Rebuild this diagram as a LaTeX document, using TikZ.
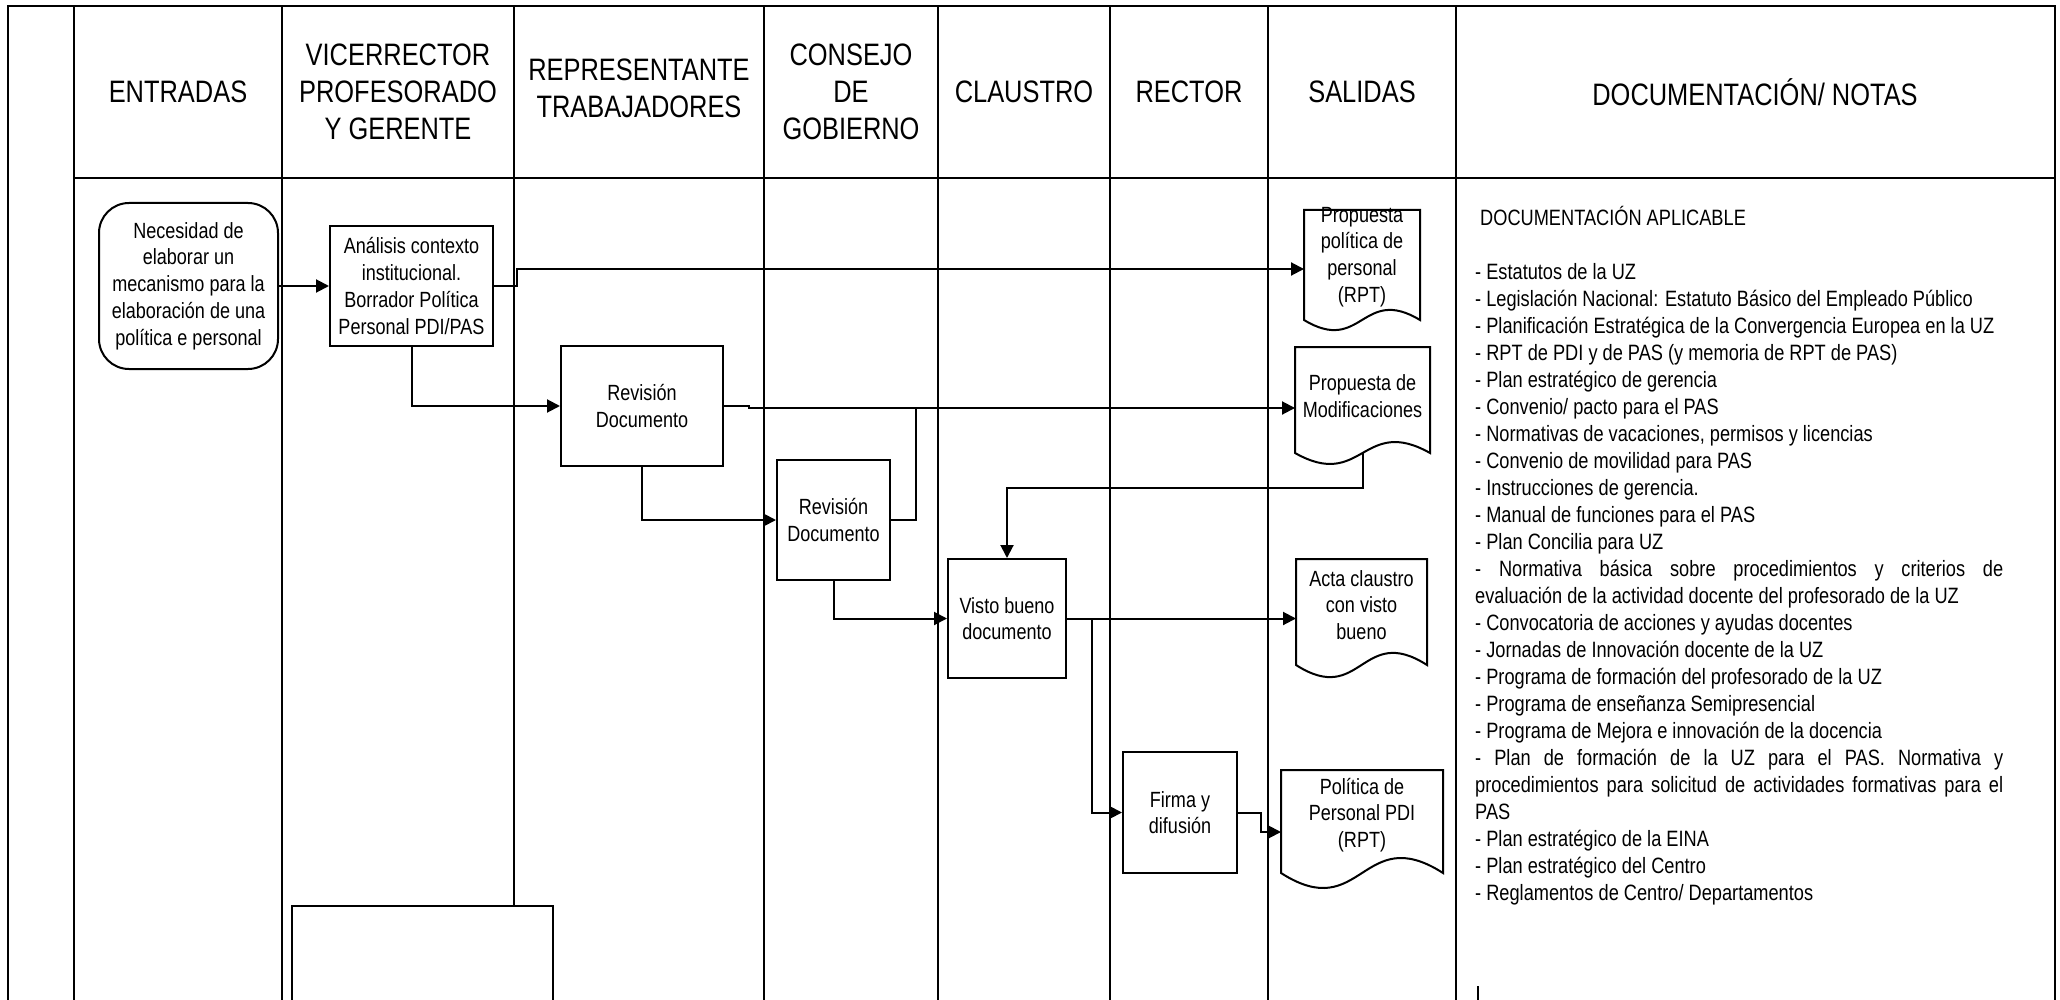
\documentclass[tikz,border=0pt]{standalone}
\usepackage{fontspec}
\setmainfont{Liberation Sans}[FakeStretch=0.82]
\usetikzlibrary{arrows.meta,calc,positioning}

\tikzset{
  lane/.style={line width=2.4pt},
  head/.style={font=\fontsize{31}{37}\selectfont, align=center},
  stepbox/.style={draw, line width=2pt, align=center, inner sep=0pt, font=\fontsize{22}{26.7}\selectfont},
  startbox/.style={stepbox, rounded corners=30pt},
  docnode/.style={inner sep=0pt, align=center, font=\fontsize{22}{26.7}\selectfont},
  docline/.style={line width=2pt},
  doctext/.style={align=left, inner sep=0pt, font=\fontsize{22.2}{27}\selectfont},
  flow/.style={line width=2pt, -{Triangle[length=13pt,width=13pt]}},
  plain/.style={line width=2pt},
}

% document shape: node, half width, half height, wave depth, shift of the outline
\newcommand{\docoutline}[5]{%
  \coordinate (#1-c) at ($(#1)+(0,#5)$);
  \draw[docline] ($(#1-c)+(-#2,-#3)$) -- ($(#1-c)+(#2,-#3)$) -- ($(#1-c)+(#2,#3)$)
    .. controls ($(#1-c)+(0,#3-#4)$) and ($(#1-c)+(0,#3+#4)$) .. ($(#1-c)+(-#2,#3)$) -- cycle;
  \coordinate (#1-w) at ($(#1-c)+(-#2,0)$);
  \coordinate (#1-s) at ($(#1-c)+(0,#3)$);}

\begin{document}
\begin{tikzpicture}[x=1pt,y=-1pt]
\useasboundingbox (0,0) rectangle (2060,1000);

\draw[lane] (8,1000) -- (8,6) -- (2055,6) -- (2055,1000);
\draw[lane] (74,178) -- (2055,178);
\foreach \x in {74,282,764,938,1110,1268,1456}
  \draw[lane] (\x,6) -- (\x,1000);
\draw[lane] (514,6) -- (514,906);
\draw[plain] (292,1000) -- (292,906) -- (553,906) -- (553,1000);

\node[head] (hin) at (178,92) {ENTRADAS};
\node[head] (hvic) at (398,92) {VICERRECTOR\\PROFESORADO\\Y GERENTE};
\node[head] (hrep) at (639,88) {REPRESENTANTE\\TRABAJADORES};
\node[head] (hcon) at (851,92) {CONSEJO\\DE\\GOBIERNO};
\node[head] (hcla) at (1024,92) {CLAUSTRO};
\node[head] (hrec) at (1189,92) {RECTOR};
\node[head] (hsal) at (1362,92) {SALIDAS};
\node[head] (hdoc) at (1755,92) {DOCUMENTACIÓN/ NOTAS};

\node[startbox, minimum width=179pt, minimum height=166pt] (nec) at (188.5,286) {Necesidad de\\elaborar un\\mecanismo para la\\elaboración de una\\política e personal};
\node[stepbox, minimum width=163pt, minimum height=120pt] (ana) at (411.5,286) {Análisis contexto\\institucional.\\Borrador Política\\Personal PDI/PAS};
\node[stepbox, minimum width=162pt, minimum height=120pt] (rev1) at (642,406) {Revisión\\Documento};
\node[stepbox, minimum width=113pt, minimum height=120pt] (rev2) at (833.5,520) {Revisión\\Documento};
\node[stepbox, minimum width=118pt, minimum height=119pt] (visto) at (1007,618.5) {Visto bueno\\documento};
\node[stepbox, minimum width=114pt, minimum height=121pt] (firma) at (1180,812.5) {Firma y\\difusión};

\node[docnode] (prop) at (1362,257) {Propuesta\\política de\\personal\\(RPT)};
\node[docnode] (mod) at (1362.5,396) {Propuesta de\\Modificaciones};
\node[docnode] (acta) at (1361.5,605) {Acta claustro\\con visto\\bueno};
\node[docnode] (pol) at (1362,815) {Política de\\Personal PDI\\(RPT)};
\docoutline{prop}{58}{55}{35}{8}
\docoutline{mod}{67.5}{53}{38}{4}
\docoutline{acta}{65.5}{53}{42}{7}
\docoutline{pol}{81}{51.5}{52}{6.5}
\coordinate (propin) at ($(prop-w)+(0,4)$);
\coordinate (modin) at ($(mod-w)+(0,8)$);
\coordinate (polin) at ($(pol-w)+(0,10.5)$);

\draw[flow] (nec) -- (ana);
\draw[flow] (ana.east) -- ++(23,0) |- (propin);
\draw[flow] (ana.south) |- (rev1.west);
\draw[flow] (rev1.east) -- ++(25,0) |- (modin);
\draw[flow] (rev1.south) |- (rev2.west);
\draw[plain] (rev2.east) -- ++(25,0) coordinate (m1) -- (m1 |- modin);
\draw[flow] (mod-s) -- ++(0,35) -| (visto.north);
\draw[flow] (rev2.south) |- (visto.west);
\draw[flow] (visto.east) -- (visto.east -| acta-w);
\draw[flow] (visto.east) -- ++(25,0) |- (firma.west);
\draw[flow] (firma.east) -- ++(23,0) |- (polin);

\node[doctext, anchor=north west] (notes) at (1475,206) {%
\hspace*{5pt}DOCUMENTACIÓN APLICABLE\\[27pt]
- Estatutos de la UZ\\
- Legislación Nacional: Estatuto Básico del Empleado Público\\
- Planificación Estratégica de la Convergencia Europea en la UZ\\
- RPT de PDI y de PAS (y memoria de RPT de PAS)\\
- Plan estratégico de gerencia\\
- Convenio/ pacto para el PAS\\
- Normativas de vacaciones, permisos y licencias\\
- Convenio de movilidad para PAS\\
- Instrucciones de gerencia.\\
- Manual de funciones para el PAS\\
- Plan Concilia para UZ\\
\makebox[528pt][s]{- Normativa básica sobre procedimientos y criterios de}\\
evaluación de la actividad docente del profesorado de la UZ\\
- Convocatoria de acciones y ayudas docentes\\
- Jornadas de Innovación docente de la UZ\\
- Programa de formación del profesorado de la UZ\\
- Programa de enseñanza Semipresencial\\
- Programa de Mejora e innovación de la docencia\\
\makebox[528pt][s]{- Plan de formación de la UZ para el PAS. Normativa y}\\
\makebox[528pt][s]{procedimientos para solicitud de actividades formativas para el}\\
PAS\\
- Plan estratégico de la EINA\\
- Plan estratégico del Centro\\
- Reglamentos de Centro/ Departamentos};
\draw[plain] (1478,986) -- (1478,1000);
\end{tikzpicture}
\end{document}
